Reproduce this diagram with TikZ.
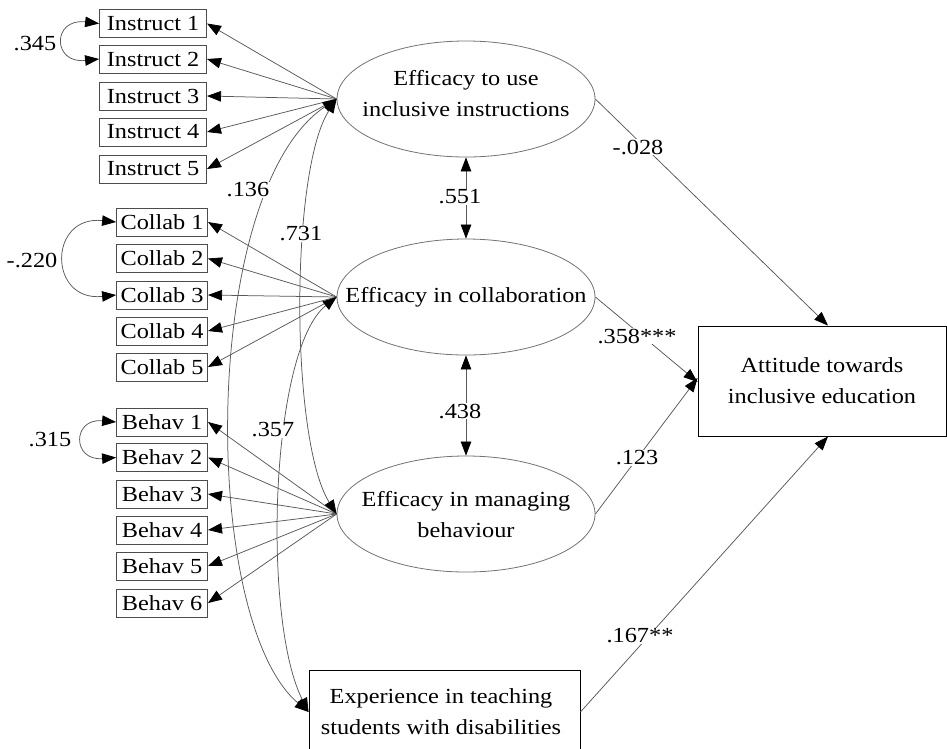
\documentclass[tikz,border=0pt]{standalone}
\usepackage{fontspec}
\setmainfont[FakeStretch=1.13]{Liberation Serif}
\usetikzlibrary{arrows.meta,shapes.geometric}
\newcommand\dgfont{\fontsize{21.5}{31}\selectfont}
\begin{document}
\begin{tikzpicture}[x=1pt,y=-1pt,
  lc/.style={draw=black!65, line width=0.75pt},
  arr/.style={lc,-{Triangle[length=14pt,width=10.5pt,color=black,fill=black]}},
  darr/.style={lc,{Triangle[length=14pt,width=10.5pt,color=black,fill=black]}-{Triangle[length=14pt,width=10.5pt,color=black,fill=black]}},
  ibox/.style={draw=black!70, line width=0.9pt, minimum height=28pt, inner sep=0pt, anchor=east, font=\dgfont},
  iwide/.style={ibox, minimum width=107pt},
  inarrow/.style={ibox, minimum width=91pt},
  ell/.style={ellipse, draw=black!55, line width=0.8pt, minimum width=258pt, minimum height=116pt, inner sep=0pt},
  etext/.style={align=center, font=\dgfont, inner sep=0pt},
  bigbox/.style={draw=black, line width=0.9pt, align=center, font=\dgfont, inner sep=0pt},
  lab/.style={fill=white, inner sep=1pt, font=\dgfont}
]
\useasboundingbox (0,0) rectangle (947,748);
\fill[white] (0,0) rectangle (947,748);

% indicator boxes
\node[iwide] (i1) at (207,23.5) {Instruct 1};
\node[iwide] (i2) at (207,59) {Instruct 2};
\node[iwide] (i3) at (207,96) {Instruct 3};
\node[iwide] (i4) at (207,132) {Instruct 4};
\node[iwide] (i5) at (207,169) {Instruct 5};
\node[inarrow] (c1) at (208,222) {Collab 1};
\node[inarrow] (c2) at (208,258.5) {Collab 2};
\node[inarrow] (c3) at (208,295) {Collab 3};
\node[inarrow] (c4) at (208,331) {Collab 4};
\node[inarrow] (c5) at (208,367) {Collab 5};
\node[inarrow] (b1) at (208,422) {Behav 1};
\node[inarrow] (b2) at (208,457.5) {Behav 2};
\node[inarrow] (b3) at (208,494) {Behav 3};
\node[inarrow] (b4) at (208,530) {Behav 4};
\node[inarrow] (b5) at (208,566) {Behav 5};
\node[inarrow] (b6) at (208,603) {Behav 6};

% latent ellipses
\node[ell] (e1) at (466,99) {};
\node[etext] (e1t) at (466,94) {Efficacy to use\\inclusive instructions};
\node[ell] (e2) at (466,297) {};
\node[etext] (e2t) at (466,297) {Efficacy in collaboration};
\node[ell] (e3) at (466,514) {};
\node[etext] (e3t) at (466,515) {Efficacy in managing\\behaviour};

% outcome and experience
\node[bigbox, minimum width=248pt, minimum height=110pt] (att) at (822,381) {Attitude towards\\inclusive education};
\node[bigbox, minimum width=271pt, minimum height=84pt] (exp) at (444.5,712) {};
\node[etext] (expt) at (441,712) {Experience in teaching\\students with disabilities};

% loadings
\foreach \n in {i1,i2,i3,i4,i5} \draw[arr] (e1.west) -- (\n.east);
\foreach \n in {c1,c2,c3,c4,c5} \draw[arr] (e2.west) -- (\n.east);
\foreach \n in {b1,b2,b3,b4,b5,b6} \draw[arr] (e3.west) -- (\n.east);

% error covariances
\draw[darr] (i1.west) .. controls (52,18) and (52,64) .. (i2.west);
\draw[darr] (c1.west) .. controls (48,215) and (48,302) .. (c3.west);
\draw[darr] (b1.west) .. controls (72,418) and (72,461) .. (b2.west);

% latent covariances
\draw[darr] (e1.south) -- (e2.north);
\draw[darr] (e2.south) -- (e3.north);
\draw[darr] (e1.west) .. controls (200,190) and (200,620) .. (exp.west);
\draw[darr] (e1.west) .. controls (290,170) and (290,440) .. (e3.west);
\draw[darr] (e2.west) .. controls (270,350) and (262,620) .. (exp.west);

% structural paths
\draw[arr] (e1.east) -- ([xshift=6pt]att.north);
\draw[arr] (e2.east) -- ([yshift=-1pt]att.west);
\draw[arr] (e3.east) -- ([yshift=3pt]att.west);
\draw[arr] (exp.east) -- ([xshift=6pt]att.south);

% labels
\node[lab] (l345) at (35,44) {.345};
\node[lab] (l220) at (32,260) {-.220};
\node[lab] (l315) at (50,440) {.315};
\node[lab] (l136) at (248,190) {.136};
\node[lab] (l731) at (301,234) {.731};
\node[lab] (l357) at (273,430) {.357};
\node[lab] (l551) at (460,197) {.551};
\node[lab] (l438) at (460,411) {.438};
\node[lab] (l028) at (638,147) {-.028};
\node[lab] (l358) at (637,336) {.358***};
\node[lab] (l123) at (637,458) {.123};
\node[lab] (l167) at (640,636) {.167**};
\end{tikzpicture}
\end{document}
